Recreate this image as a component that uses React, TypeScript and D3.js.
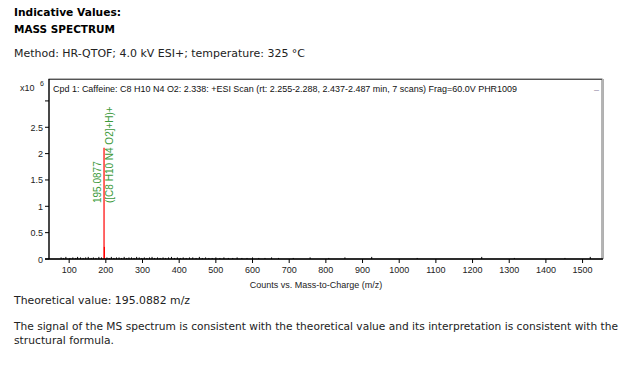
import React from "react";
import * as d3 from "d3";

const xTicks = [100, 200, 300, 400, 500, 600, 700, 800, 900, 1000, 1100, 1200, 1300, 1400, 1500];
const yTicks = [0, 0.5, 1, 1.5, 2, 2.5, 3];
const yTickLabels = ["0", "0.5", "1", "1.5", "2", "2.5", ""];

// main peaks (counts x10^6)
const peakMz = [195.0877, 196.091];
const peakInt = [2.11, 0.23];

// baseline noise sticks (counts x10^6)
const noiseMz = [78, 84, 91, 102, 110, 118, 123, 131, 138, 145, 152, 160, 166, 173, 181, 188, 203, 209, 215, 222, 229, 236, 243, 250, 257, 263, 270, 277, 284, 291, 298, 305, 312, 319, 326, 333, 341, 348, 356, 363, 371, 379, 387, 395, 403, 411, 419, 428, 437, 446, 455, 463, 472, 481, 490, 500, 511, 522, 534, 546, 558, 571, 585, 600, 617, 634, 652, 671, 711, 757, 808, 852, 925, 1049, 1225, 1314, 1452, 1521];
const noiseInt = [0.03, 0.02, 0.04, 0.02, 0.03, 0.02, 0.04, 0.03, 0.02, 0.03, 0.04, 0.02, 0.03, 0.02, 0.04, 0.03, 0.03, 0.02, 0.04, 0.02, 0.03, 0.03, 0.02, 0.04, 0.02, 0.03, 0.03, 0.02, 0.04, 0.03, 0.02, 0.03, 0.02, 0.03, 0.04, 0.02, 0.03, 0.02, 0.03, 0.02, 0.03, 0.04, 0.02, 0.03, 0.02, 0.03, 0.02, 0.03, 0.03, 0.02, 0.04, 0.02, 0.03, 0.02, 0.02, 0.03, 0.02, 0.03, 0.02, 0.02, 0.03, 0.02, 0.02, 0.03, 0.02, 0.02, 0.03, 0.02, 0.02, 0.03, 0.02, 0.03, 0.04, 0.02, 0.04, 0.02, 0.02, 0.04];

const headerText = "Cpd 1: Caffeine: C8 H10 N4 O2: 2.338: +ESI Scan (rt: 2.255-2.288, 2.437-2.487 min, 7 scans) Frag=60.0V PHR1009";
const massLabel = "195.0877";
const formulaLabel = "([C8 H10 N4 O2]+H)+";
const xTitle = "Counts vs. Mass-to-Charge (m/z)";

export default function App() {
  const L = 49, R = 602, T = 79, B = 259;
  const x = d3.scaleLinear().domain([45, 1553]).range([L, R]);
  const y = d3.scaleLinear().domain([0, 3.416]).range([B, T]);
  const chartFont = "'Liberation Sans', Arial, sans-serif";
  const pageFont = "'DejaVu Sans', Verdana, sans-serif";
  const green = "#3c9a3c";
  const px = x(peakMz[0]);
  return (
    <svg width={627} height={366} style={{ position: "absolute", left: 0, top: 0, background: "#fff" }}>
      <rect x={0} y={0} width={627} height={366} fill="#fff" />
      <g fontFamily={pageFont} fill="#000">
        <text x={14} y={16} fontSize={10} fontWeight="bold" textLength={107} lengthAdjust="spacingAndGlyphs">Indicative Values:</text>
        <text x={14} y={33} fontSize={10} fontWeight="bold" textLength={101} lengthAdjust="spacingAndGlyphs">MASS SPECTRUM</text>
        <text x={14} y={57} fontSize={10.5} fill="#222" textLength={291} lengthAdjust="spacingAndGlyphs">Method: HR-QTOF; 4.0 kV ESI+; temperature: 325 °C</text>
        <text x={14} y={304} fontSize={10.5} fill="#222" textLength={176} lengthAdjust="spacingAndGlyphs">Theoretical value: 195.0882 m/z</text>
        <text x={14} y={330} fontSize={10.5} fill="#222" textLength={604} lengthAdjust="spacingAndGlyphs">The signal of the MS spectrum is consistent with the theoretical value and its interpretation is consistent with the</text>
        <text x={14} y={344} fontSize={10.5} fill="#222" textLength={100} lengthAdjust="spacingAndGlyphs">structural formula.</text>
      </g>
      <g fontFamily={chartFont}>
        {/* frame */}
        <rect x={L} y={T} width={R - L} height={B - T} fill="none" stroke="#6a6a6a" strokeWidth={1} />
        <line x1={R + 1.5} x2={R + 1.5} y1={T} y2={B} stroke="#b0b0b0" strokeWidth={1} />
        <line x1={L} x2={R} y1={T + 0.5} y2={T + 0.5} stroke="#555" strokeWidth={1} />
        <text x={594} y={93} fontSize={9} fill="#9a8fa8">–</text>
        <text x={53} y={92} fontSize={9} fill="#111" textLength={464} lengthAdjust="spacingAndGlyphs">{headerText}</text>
        {/* noise */}
        {noiseMz.map((m, i) => (
          <line key={"n" + i} x1={x(m)} x2={x(m)} y1={y(0)} y2={y(noiseInt[i])} stroke="#000" strokeWidth={1} />
        ))}
        {/* peaks */}
        {peakMz.map((m, i) => (
          <line key={"p" + i} x1={x(m)} x2={x(m)} y1={y(0)} y2={y(peakInt[i])} stroke="#ff0000" strokeWidth={1.2} />
        ))}
        {/* annotations */}
        <text transform={`translate(${px - 3},${203}) rotate(-90)`} fontSize={10} fill={green}>{massLabel}</text>
        <text transform={`translate(${px + 9},${203}) rotate(-90)`} fontSize={10} fill={green}>{formulaLabel}</text>
        {/* axes */}
        <line x1={L} x2={L} y1={T} y2={B} stroke="#000" strokeWidth={1.2} />
        <line x1={L - 4} x2={R + 1} y1={B} y2={B} stroke="#000" strokeWidth={1.5} />
        {yTicks.map((t, i) => (
          <g key={"y" + i}>
            <line x1={L - 4} x2={L} y1={y(t)} y2={y(t)} stroke="#000" strokeWidth={1} />
            <text x={L - 6} y={y(t) + 3.5} fontSize={9} textAnchor="end" fill="#222">{yTickLabels[i]}</text>
          </g>
        ))}
        {xTicks.map((t, i) => (
          <g key={"x" + i}>
            <line x1={x(t)} x2={x(t)} y1={B} y2={B + 4} stroke="#000" strokeWidth={1} />
            <text x={x(t)} y={B + 14} fontSize={9} textAnchor="middle" fill="#222">{t}</text>
          </g>
        ))}
        <text x={20} y={91} fontSize={9} fill="#222">x10</text>
        <text x={40} y={86} fontSize={7} fill="#222">6</text>
        <text x={316} y={288} fontSize={9} textAnchor="middle" fill="#222">{xTitle}</text>
      </g>
    </svg>
  );
}
